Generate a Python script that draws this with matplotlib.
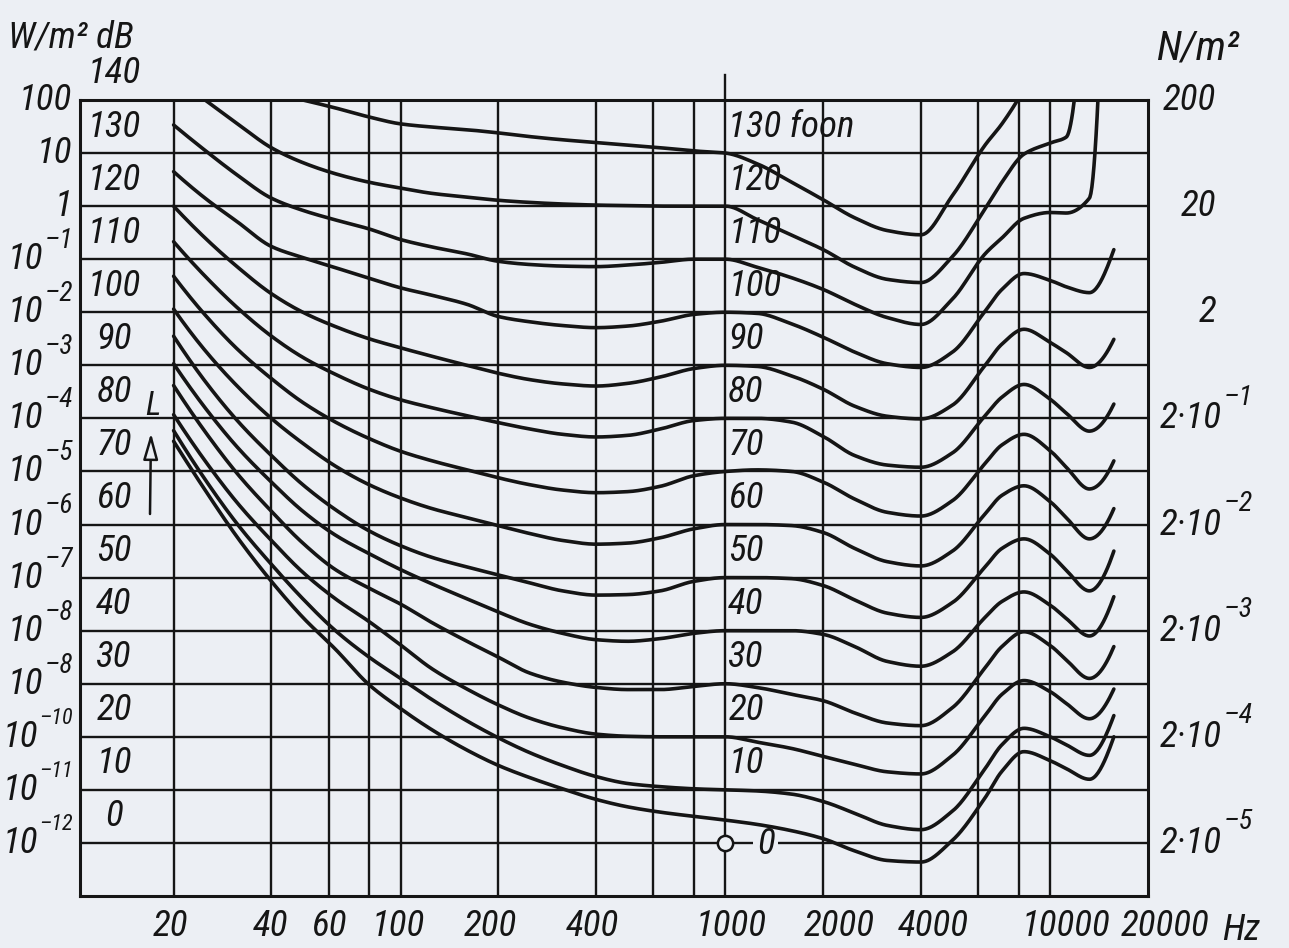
import re
import numpy as np
import matplotlib
matplotlib.use("Agg")
import matplotlib.pyplot as plt
import matplotlib.font_manager as fm
from matplotlib.transforms import blended_transform_factory, offset_copy

nan = np.nan

# Frequency grid (Hz) shared by all equal-loudness contours
FREQ_HZ = [20, 25, 31.5, 40, 50, 63, 80, 100, 125, 160, 200, 250, 315, 400, 500,
           630, 800, 1000, 1250, 1600, 2000, 2500, 3150, 4000, 5000, 6300, 7100,
           8300, 10000, 11200, 13200, 15700]

# Sound pressure level (dB) of each contour on FREQ_HZ; nan = not drawn
spl_130 = [nan, nan, nan, nan, 140.0, 138.5, 136.8, 135.5, 134.9, 134.4, 133.8, 133.1, 132.5, 132.0, 131.5,
           131.0, 130.4, 130.0, 128.0, 124.5, 121.2, 117.8, 115.4, 114.6, 122.0, 131.5, 135.5,
           142.0, nan, nan, nan, nan]
spl_120 = [nan, 140.0, 135.5, 131.0, 128.2, 126.1, 124.5, 123.4, 122.4, 121.7, 121.1, 120.7, 120.4, 120.2, 120.1,
           120.0, 120.0, 120.0, 117.5, 114.5, 111.8, 108.5, 106.2, 105.6, 110.5, 119.5, 124.5,
           129.8, 131.9, 133.0, 175.0, nan]
spl_110 = [135.3, 130.5, 125.8, 121.5, 119.2, 117.4, 115.7, 113.7, 112.3, 111.0, 109.6, 109.0, 108.7, 108.6, 108.9,
           109.4, 110.0, 110.0, 108.5, 106.5, 104.3, 101.5, 99.0, 97.7, 102.5, 111.0, 114.0,
           117.7, 118.8, 118.7, 121.5, 230.0]
spl_100 = [126.5, 121.5, 117.0, 112.4, 110.3, 108.4, 106.4, 104.6, 103.2, 101.5, 99.2, 98.2, 97.5, 97.1, 97.4,
           98.3, 99.6, 100.0, 99.8, 97.8, 95.3, 92.5, 90.3, 89.6, 92.5, 100.2, 104.3,
           107.3, 106.0, 104.8, 103.7, 111.8]
spl_90 = [120.0, 114.0, 108.5, 103.5, 100.0, 97.3, 95.0, 93.3, 91.7, 90.0, 88.5, 87.3, 86.5, 86.1, 86.6,
          87.8, 89.4, 90.0, 89.8, 88.0, 85.5, 82.3, 80.4, 79.9, 82.5, 90.0, 94.0,
          96.8, 94.3, 92.4, 89.6, 94.9]
spl_80 = [113.3, 106.8, 100.8, 95.5, 91.5, 88.3, 85.5, 83.5, 82.0, 80.5, 79.2, 78.0, 77.0, 76.5, 76.8,
          78.0, 79.6, 80.0, 80.0, 79.3, 76.6, 73.0, 71.2, 70.8, 73.5, 80.5, 84.0,
          86.4, 83.6, 81.0, 77.6, 82.7]
spl_70 = [106.8, 99.5, 93.0, 87.5, 83.0, 79.3, 76.2, 73.8, 72.0, 70.3, 68.8, 67.5, 66.5, 66.0, 66.2,
          67.2, 69.2, 70.0, 70.3, 70.0, 68.0, 64.8, 62.3, 61.6, 64.5, 71.5, 75.0,
          77.0, 73.9, 70.8, 66.7, 72.0]
spl_60 = [100.6, 92.8, 86.0, 80.0, 75.3, 71.0, 67.5, 65.0, 63.0, 61.3, 59.8, 58.3, 57.0, 56.3, 56.5,
          57.5, 59.2, 60.0, 60.0, 59.8, 58.5, 55.5, 53.0, 52.2, 55.0, 62.0, 65.5,
          67.3, 64.3, 61.3, 57.3, 63.0]
spl_50 = [95.5, 87.0, 79.5, 73.0, 67.5, 62.8, 58.8, 56.0, 53.8, 52.0, 50.5, 49.0, 47.5, 46.7, 46.8,
          47.5, 49.3, 50.0, 50.0, 49.8, 48.5, 45.8, 43.3, 42.5, 45.3, 52.0, 55.5,
          57.3, 54.4, 51.4, 47.5, 55.0]
spl_40 = [90.3, 82.0, 74.5, 68.0, 62.5, 58.0, 54.5, 51.5, 48.8, 46.0, 43.5, 41.2, 39.5, 38.3, 38.0,
          38.5, 39.5, 40.0, 40.0, 40.0, 39.3, 37.0, 34.2, 33.3, 36.0, 42.5, 45.5,
          47.3, 44.8, 42.3, 39.0, 46.4]
spl_30 = [86.2, 77.5, 69.5, 62.5, 56.5, 51.5, 48.0, 45.0, 41.5, 38.0, 35.0, 32.0, 30.3, 29.3, 28.9,
          28.9, 29.5, 30.0, 29.3, 28.0, 26.8, 24.5, 22.6, 22.1, 25.5, 33.0, 37.0,
          39.8, 37.2, 34.5, 31.0, 37.0]
spl_20 = [80.7, 72.0, 64.0, 57.0, 51.0, 46.0, 41.7, 37.3, 32.8, 29.0, 26.0, 23.5, 21.7, 20.5, 20.1,
          20.0, 20.0, 20.0, 19.0, 17.8, 16.3, 14.8, 13.4, 13.0, 16.5, 24.0, 28.0,
          30.6, 28.5, 26.3, 23.4, 29.0]
spl_10 = [77.7, 68.5, 60.0, 52.5, 46.0, 40.0, 35.0, 31.0, 27.0, 23.0, 19.8, 17.0, 14.6, 12.5, 11.2,
          10.6, 10.2, 10.0, 9.8, 9.2, 7.8, 5.6, 3.3, 2.5, 6.0, 14.0, 18.5,
          21.6, 20.0, 18.5, 16.5, 24.0]
spl_0 = [75.7, 66.5, 57.5, 49.3, 42.5, 36.5, 29.8, 25.3, 21.3, 17.5, 14.6, 12.3, 10.2, 8.2, 6.8,
         5.8, 5.0, 4.3, 3.5, 2.3, 0.8, -1.5, -3.3, -3.6, 0.5, 8.5, 13.5,
         17.2, 15.5, 14.0, 12.0, 20.0]

PHON_LEVELS = [0, 10, 20, 30, 40, 50, 60, 70, 80, 90, 100, 110, 120, 130]
CONTOURS = [spl_0, spl_10, spl_20, spl_30, spl_40, spl_50, spl_60,
            spl_70, spl_80, spl_90, spl_100, spl_110, spl_120, spl_130]

# Axis grid and labels
GRID_FREQ = [20, 40, 60, 80, 100, 200, 400, 600, 800, 1000, 2000, 4000, 6000, 8000, 10000]
XTICK_FREQ = [20, 40, 60, 100, 200, 400, 1000, 2000, 4000, 10000, 20000]
XTICK_NUDGE_PX = [-3, -1, 0, -2, -8, -4, 6, 16, 12, 16, 17]
DB_TICKS = [140, 130, 120, 110, 100, 90, 80, 70, 60, 50, 40, 30, 20, 10, 0]
INTENSITY_PLAIN = ["100", "10", "1"]
INTENSITY_EXP = ["1", "2", "3", "4", "5", "6", "7", "8", "8", "10", "11", "12"]
PRESSURE_DB = [140, 120, 100, 80, 60, 40, 20, 0]
PRESSURE_PLAIN = ["200", "20", "2"]
PRESSURE_EXP = ["1", "2", "3", "4", "5"]

INK = "#151515"
PAPER = "#eceff4"

FAMILY_RE = re.compile(r"^(liberation sans( narrow)?|noto sans( (semi|extra)? ?condensed)?|"
                       r"dejavu sans( condensed)?|roboto( condensed)?|open sans( condensed)?|lato|inter)$")


def digit_shape(fname):
    font = fm.get_font(fname)
    font.set_size(100, 72)
    g = font.load_char(ord("0"))
    return g.linearHoriAdvance / 65536.0, g.height / 64.0


def pick_font():
    """Italic sans whose digits are narrow, close to technical lettering."""
    best, best_score = None, None
    for e in fm.fontManager.ttflist:
        if e.style not in ("italic", "oblique") or str(e.weight) not in ("400", "normal", "regular"):
            continue
        if not FAMILY_RE.match(e.name.lower()):
            continue
        try:
            adv, hgt = digit_shape(e.fname)
        except Exception:
            continue
        if hgt <= 0:
            continue
        score = abs(adv / hgt - 0.62)
        if best_score is None or score < best_score:
            best, best_score = (e.fname, hgt), score
    if best is None:
        fname = fm.findfont(fm.FontProperties(family="DejaVu Sans", style="oblique"))
        best = (fname, digit_shape(fname)[1])
    return best


FONT_FILE, DIGIT_H100 = pick_font()
# size that gives digits about 27 px tall
FS = 27.0 / (DIGIT_H100 / 100.0) * 0.72


def fp(size=None):
    return fm.FontProperties(fname=FONT_FILE, size=size or FS)


W, H = 1289, 948
fig = plt.figure(figsize=(W / 100, H / 100), dpi=100, facecolor=PAPER)
ax_left, ax_right, ax_top, ax_bottom = 80, 1148, 100, 896
ax = fig.add_axes([ax_left / W, 1 - ax_bottom / H, (ax_right - ax_left) / W, (ax_bottom - ax_top) / H])
ax.set_facecolor(PAPER)
ax.set_xscale("log")
ax.set_xlim(10.3, 20000)
ax.set_ylim(-10, 140)
ax.set_xticks([])
ax.set_yticks([])
ax.minorticks_off()
for s in ax.spines.values():
    s.set_linewidth(2.2)
    s.set_color(INK)

for f in GRID_FREQ:
    ax.axvline(f, color=INK, lw=1.7, zorder=1)
for d in range(0, 140, 10):
    ax.axhline(d, color=INK, lw=1.7, zorder=1)
# the 1000 Hz reference line sticks out above the frame
ax.plot([1000, 1000], [140, 144.7], color=INK, lw=1.7, clip_on=False, zorder=1)


def _end_slope(h0, h1, m0, m1):
    d = ((2 * h0 + h1) * m0 - h0 * m1) / (h0 + h1)
    if np.sign(d) != np.sign(m0):
        return 0.0
    if np.sign(m0) != np.sign(m1) and abs(d) > abs(3 * m0):
        return 3 * m0
    return d


def pchip(x, y, xs):
    """Monotone cubic Hermite curve through the points (x, y)."""
    h = np.diff(x)
    m = np.diff(y) / h
    n = len(x)
    d = np.zeros(n)
    if n == 2:
        d[:] = m[0]
    else:
        for k in range(1, n - 1):
            if m[k - 1] * m[k] > 0:
                w1 = 2 * h[k] + h[k - 1]
                w2 = h[k] + 2 * h[k - 1]
                d[k] = (w1 + w2) / (w1 / m[k - 1] + w2 / m[k])
        d[0] = _end_slope(h[0], h[1], m[0], m[1])
        d[-1] = _end_slope(h[-1], h[-2], m[-1], m[-2])
    i = np.clip(np.searchsorted(x, xs) - 1, 0, n - 2)
    t = (xs - x[i]) / h[i]
    return ((2 * t ** 3 - 3 * t ** 2 + 1) * y[i] + (t ** 3 - 2 * t ** 2 + t) * h[i] * d[i]
            + (-2 * t ** 3 + 3 * t ** 2) * y[i + 1] + (t ** 3 - t ** 2) * h[i] * d[i + 1])


logf = np.log10(np.array(FREQ_HZ, dtype=float))
for level, spl in zip(PHON_LEVELS, CONTOURS):
    spl = np.array(spl, dtype=float)
    ok = ~np.isnan(spl)
    xk, yk = logf[ok], spl[ok]
    xs = np.linspace(xk[0], xk[-1], 900)
    ax.plot(10 ** xs, pchip(xk, yk, xs), color=INK, lw=2.6, solid_capstyle="round", zorder=3)

# contour labels just right of the 1000 Hz line
for level in PHON_LEVELS[1:]:
    text = "130 foon" if level == 130 else str(level)
    ax.annotate(text, xy=(1000, level + 5), xytext=(2, 0), textcoords="offset points",
                ha="left", va="center", fontproperties=fp(), color=INK, zorder=4)
# reference point: 0 dB at 1000 Hz
ax.plot([1000], [0], marker="o", ms=11, mfc=PAPER, mec=INK, mew=1.8, zorder=5)
ax.annotate("0", xy=(1000, 0), xytext=(29, -1), textcoords="offset points", ha="center", va="center",
            fontproperties=fp(), color=INK, zorder=2,
            bbox=dict(boxstyle="square,pad=0.1", fc=PAPER, ec="none"))

fig_y = blended_transform_factory(fig.transFigure, ax.transData)
RAISE = 13  # points an exponent sits above its base line

# left scale: intensity in W/m2 (right-aligned) and level in dB
for d, lab in zip(DB_TICKS[:3], INTENSITY_PLAIN):
    ax.text(72 / W, d, lab, transform=fig_y, ha="right", va="center", fontproperties=fp(), color=INK)
for d, exp in zip(DB_TICKS[3:], INTENSITY_EXP):
    size = FS * (0.74 if len(exp) == 1 else 0.6)
    e = ax.text(73 / W, d, "\u2013" + exp, transform=offset_copy(fig_y, fig=fig, y=RAISE, units="points"),
                ha="right", va="center", fontproperties=fp(size), color=INK)
    ax.annotate("10", xy=(0, 0.5), xycoords=e, xytext=(-1, -RAISE), textcoords="offset points",
                ha="right", va="center", fontproperties=fp(), color=INK)
for d in DB_TICKS:
    ax.text(114 / W, d + 5, str(d), transform=fig_y, ha="center", va="center", fontproperties=fp(), color=INK)

# right scale: sound pressure in N/m2
for d, lab in zip(PRESSURE_DB[:3], PRESSURE_PLAIN):
    ax.text(1216 / W, d, lab, transform=fig_y, ha="right", va="center", fontproperties=fp(), color=INK)
for d, exp in zip(PRESSURE_DB[3:], PRESSURE_EXP):
    b = ax.text(1160 / W, d, "2\u00b710", transform=fig_y, ha="left", va="center", fontproperties=fp(), color=INK)
    ax.annotate("\u2013" + exp, xy=(1, 0.5), xycoords=b, xytext=(1, RAISE + 2), textcoords="offset points",
                ha="left", va="center", fontproperties=fp(FS * 0.76), color=INK)

# frequency labels under the frame
x_fig = blended_transform_factory(ax.transData, fig.transFigure)
for f, nudge in zip(XTICK_FREQ, XTICK_NUDGE_PX):
    ax.text(f, 1 - 926 / H, str(f), ha="center", va="center", fontproperties=fp(), color=INK,
            transform=offset_copy(x_fig, fig=fig, x=nudge * 0.72, units="points"))
fig.text(1222 / W, 1 - 930 / H, "Hz", ha="left", va="center", fontproperties=fp(), color=INK)

fig.text(8 / W, 1 - 38 / H, "W/m\u00b2 dB", ha="left", va="center", fontproperties=fp(FS * 1.0), color=INK)
fig.text(1156 / W, 1 - 48 / H, "N/m\u00b2", ha="left", va="center", fontproperties=fp(FS * 1.12), color=INK)

# level axis marker
fig.text(153 / W, 1 - 406 / H, "L", ha="center", va="center", fontproperties=fp(FS * 0.9), color=INK)
ax.annotate("", xy=(151 / W, 1 - 433 / H), xytext=(150 / W, 1 - 514 / H),
            xycoords="figure fraction", textcoords="figure fraction",
            arrowprops=dict(arrowstyle="-|>,head_length=1.6,head_width=0.45", lw=1.8,
                            color=INK, fc=PAPER, shrinkA=0, shrinkB=0))

fig.savefig("out.png", dpi=100, facecolor=PAPER)
